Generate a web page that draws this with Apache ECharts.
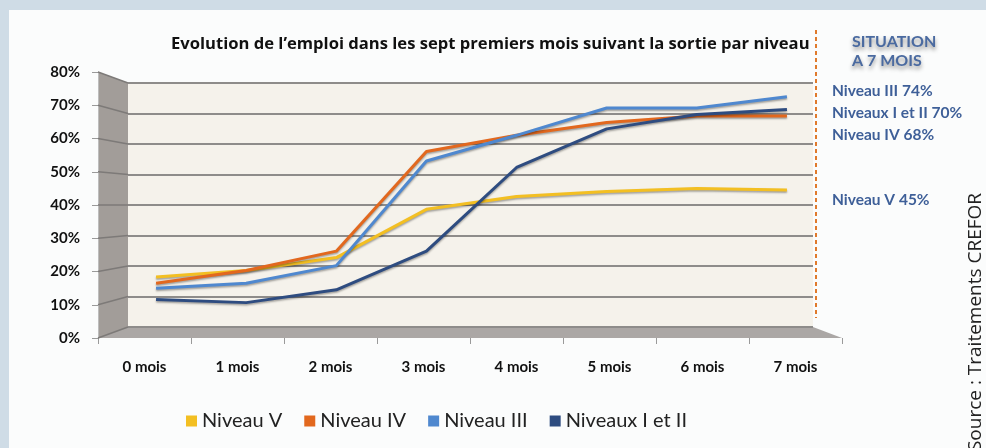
<!DOCTYPE html>
<html>
<head>
<meta charset="utf-8">
<script src="https://cdn.jsdelivr.net/npm/echarts@6/dist/echarts.min.js"></script>
<style>
  html, body { margin: 0; padding: 0; background: #cfdce6; }
  #chart { width: 986px; height: 448px; }
</style>
</head>
<body>
<div id="chart"></div>
<script>
// categories (x axis)
const months = ["0 mois", "1 mois", "2 mois", "3 mois", "4 mois", "5 mois", "6 mois", "7 mois"];

// employment rate (%)
const niveauV = [18, 20, 24, 39, 43, 44.5, 45.5, 45];
const niveauIV = [16, 20, 26, 57, 62, 66, 68, 68];
const niveauIII = [14.5, 16, 21.5, 54, 62, 70.5, 70.5, 74];
const niveauxIetII = [11, 10, 14, 26, 52, 64, 68.5, 70];

// right side notes
const situationLines = ["Niveau III 74%", "Niveaux I et II 70%", "Niveau IV 68%"];
const situationLast = "Niveau V 45%";

const FONT = "Lato, 'Open Sans', sans-serif";

const chart = echarts.init(document.getElementById("chart"), null, { renderer: "canvas" });

// pseudo 3D box: front axis plane vs back wall plane
const front = { left: 98, right: 842, top: 72, bottom: 338 };
const back = { left: 128, right: 813, top: 83, bottom: 327 };

const wallLines = [];
for (let i = 0; i <= 8; i++) {
  const yf = front.bottom - (front.bottom - front.top) * i / 8;
  const yb = back.bottom - (back.bottom - back.top) * i / 8;
  wallLines.push({
    type: "line",
    z: 1,
    shape: { x1: front.left, y1: yf, x2: back.left, y2: yb },
    style: { stroke: "#7d7a78", lineWidth: 1.5 }
  });
}

const makeLine = (name, data, color) => ({
  name: name,
  type: "line",
  xAxisIndex: 2,
  yAxisIndex: 2,
  data: data,
  symbol: "none",
  z: 5,
  lineStyle: {
    color: color,
    width: 3,
    shadowColor: "rgba(0,0,0,0.35)",
    shadowBlur: 2,
    shadowOffsetY: 1.5
  },
  itemStyle: { color: color }
});

const option = {
  backgroundColor: "#cfdce6",
  animation: false,
  textStyle: { fontFamily: FONT },
  title: {
    text: "Evolution de l\u2019emploi dans les sept premiers mois suivant la sortie par niveau",
    left: 166,
    top: 31,
    textStyle: { fontFamily: "'Open Sans', sans-serif", fontSize: 16.6, fontWeight: "bold", color: "#111" }
  },
  legend: {
    left: 181,
    top: 406,
    icon: "rect",
    itemWidth: 11,
    itemHeight: 11,
    itemGap: 22,
    textStyle: { fontFamily: FONT, fontSize: 20, color: "#222" },
    data: ["Niveau V", "Niveau IV", "Niveau III", "Niveaux I et II"]
  },
  grid: [
    // back wall
    { left: back.left, width: back.right - back.left, top: back.top, height: back.bottom - back.top,
      show: true, backgroundColor: "#f5f2eb", borderWidth: 0 },
    // front axes (labels)
    { left: front.left, width: front.right - front.left, top: front.top, height: front.bottom - front.top },
    // data plane
    { left: 111, width: 721, top: 77.4, height: 257.4 }
  ],
  xAxis: [
    { gridIndex: 0, type: "category", data: months, show: false },
    { gridIndex: 1, type: "category", data: months,
      axisLine: { show: false },
      axisTick: { show: true, length: 6, lineStyle: { color: "#9a9a9a" } },
      axisLabel: { margin: 22, fontFamily: FONT, fontSize: 15, fontWeight: "bold", color: "#111" } },
    { gridIndex: 2, type: "category", data: months, show: false }
  ],
  yAxis: [
    { gridIndex: 0, type: "value", min: 0, max: 80, interval: 10,
      axisLine: { show: false }, axisTick: { show: false }, axisLabel: { show: false },
      splitLine: { show: true, lineStyle: { color: "#8e8c8a", width: 2 } } },
    { gridIndex: 1, type: "value", min: 0, max: 80, interval: 10,
      axisLine: { show: true, lineStyle: { color: "#bdbdbd" } },
      axisTick: { show: true, length: 6, lineStyle: { color: "#9a9a9a" } },
      splitLine: { show: false },
      axisLabel: { margin: 18, formatter: "{value}%", fontFamily: FONT, fontSize: 15, fontWeight: "bold", color: "#111" } },
    { gridIndex: 2, type: "value", min: 0, max: 80, show: false, splitLine: { show: false } }
  ],
  graphic: [
    // white page panel
    { type: "rect", z: -10, shape: { x: 9, y: 10, width: 977, height: 438 }, style: { fill: "#fbfcfc" } },
    // left wall
    { type: "polygon", z: 0,
      shape: { points: [[front.left, front.top], [back.left, back.top], [back.left, back.bottom], [front.left, front.bottom]] },
      style: { fill: "#a29d99" } },
    // floor
    { type: "polygon", z: 0,
      shape: { points: [[front.left, front.bottom], [back.left, back.bottom], [back.right, back.bottom], [front.right, front.bottom]] },
      style: { fill: "#aba7a5" } },
    ...wallLines,
    // dashed separator
    { type: "line", z: 6, shape: { x1: 816, y1: 30, x2: 816, y2: 318 },
      style: { stroke: "#e07a2c", lineWidth: 2, lineDash: [4, 3] } },
    // situation header
    { type: "text", z: 6, left: 852, top: 32,
      style: { text: "SITUATION\nA 7 MOIS", font: "bold 16px " + FONT, fill: "#4a6aa0", lineHeight: 19,
        textShadowColor: "rgba(0,0,0,0.45)", textShadowBlur: 4, textShadowOffsetY: 3 } },
    { type: "text", z: 6, left: 832, top: 80,
      style: { text: situationLines.join("\n"), font: "bold 15.5px " + FONT, fill: "#3e5f98", lineHeight: 22 } },
    { type: "text", z: 6, left: 832, top: 192,
      style: { text: situationLast, font: "bold 15.5px " + FONT, fill: "#3e5f98" } },
    // source, rotated
    { type: "text", z: 6, x: 976, y: 322, rotation: Math.PI / 2,
      style: { text: "Source : Traitements CREFOR", font: "19px 'Open Sans', sans-serif", fill: "#222",
        align: "center", verticalAlign: "middle" } }
  ],
  series: [
    makeLine("Niveau V", niveauV, "#f3bf22"),
    makeLine("Niveau IV", niveauIV, "#e2681e"),
    makeLine("Niveau III", niveauIII, "#4f88cf"),
    makeLine("Niveaux I et II", niveauxIetII, "#2e4c80")
  ]
};

chart.setOption(option);
window.addEventListener("resize", () => chart.resize());
</script>
</body>
</html>
